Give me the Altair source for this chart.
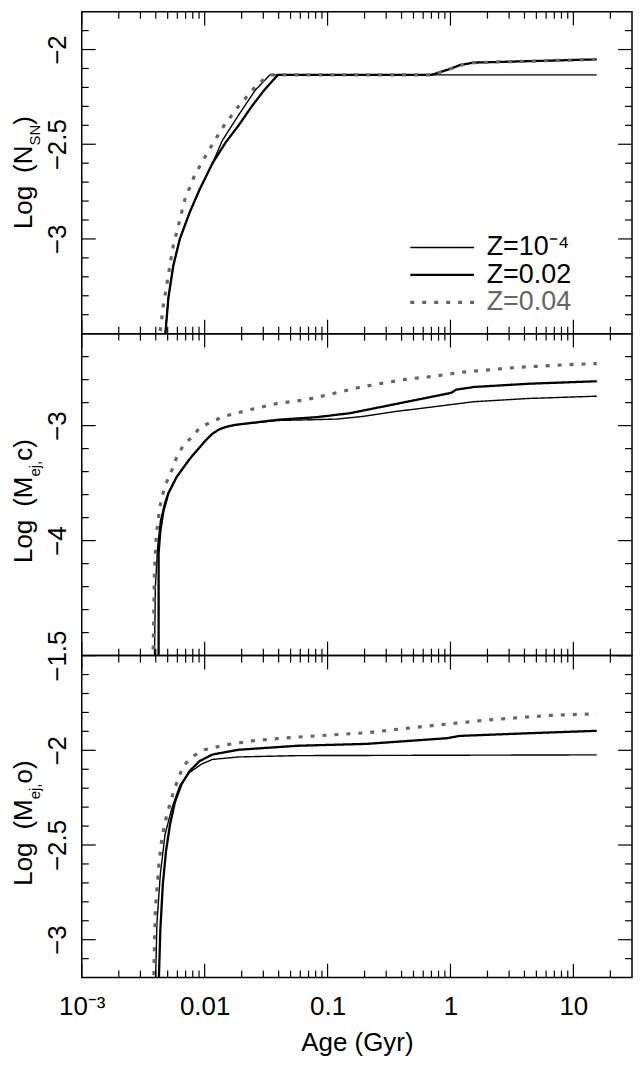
import altair as alt
import pandas as pd

FONT = "Liberation Sans"
W, H = 552, 323

# series styling
SERIES = ["Z=10⁻⁴", "Z=0.02", "Z=0.04"]
SERIES_WIDTH = [1.4, 3.2, 3.0]
SERIES_DASH = [[1, 0], [1, 0], [4, 8]]
SERIES_COLOR = ["#000000", "#000000", "#666666"]

# x axis (age, Gyr, log)
X_DOMAIN = [0.001, 30]
X_TICKS = [0.001, 0.01, 0.1, 1, 10]
X_TICK_LABELS = ["10⁻³", "0.01", "0.1", "1", "10"]
X_MINOR = [k * 10.0 ** d for d in range(-3, 2) for k in range(2, 10) if k * 10.0 ** d < 30]

# ---- panel 1: Log(N_SN) ----
NSN_AGE_THIN = [0.00476, 0.00507, 0.00556, 0.00628, 0.00755, 0.00908, 0.01159, 0.01393,
                0.01892, 0.0257, 0.0339, 15.5]
NSN_THIN = [-3.52, -3.31, -3.14, -3.00, -2.86, -2.74, -2.60, -2.48, -2.345, -2.216, -2.134, -2.134]
NSN_AGE_THICK = [0.00476, 0.00507, 0.00556, 0.00628, 0.00755, 0.00908, 0.01159, 0.01483,
                 0.01892, 0.02415, 0.0309, 0.03945, 0.697, 0.809, 1.016, 1.18, 1.54, 15.5]
NSN_THICK = [-3.52, -3.31, -3.14, -3.00, -2.86, -2.74, -2.60, -2.49, -2.40, -2.30, -2.21,
             -2.134, -2.134, -2.121, -2.10, -2.083, -2.069, -2.052]
NSN_AGE_DOT = [0.00430, 0.00436, 0.00462, 0.00492, 0.00522, 0.00556, 0.00610, 0.00689, 0.00828,
               0.01057, 0.01393, 0.01832, 0.02495, 0.0309, 0.0349, 0.697, 0.809, 1.016, 1.18,
               1.54, 15.5]
NSN_DOT = [-3.55, -3.48, -3.345, -3.241, -3.138, -3.034, -2.931, -2.793, -2.664, -2.543, -2.414,
           -2.310, -2.207, -2.152, -2.134, -2.134, -2.121, -2.10, -2.083, -2.069, -2.052]
NSN_Y_DOMAIN = [-3.5, -1.8]
NSN_Y_TICKS = [-3, -2.5, -2]
NSN_Y_LABELS = ["−3", "−2.5", "−2"]

# ---- panel 2: Log(M_ej, c) ----
C_AGE_THIN = [0.00390, 0.00397, 0.00414, 0.00436, 0.00476, 0.00507, 0.00592, 0.00755, 0.01026,
              0.01159, 0.0130, 0.0150, 0.01782, 0.03945, 0.0728, 0.1189, 0.194, 0.358, 0.746,
              1.556, 4.27, 15.5]
C_THIN = [-5.05, -4.40, -4.06, -3.83, -3.66, -3.58, -3.446, -3.29, -3.125, -3.07, -3.035, -3.01,
          -2.993, -2.955, -2.949, -2.943, -2.92, -2.877, -2.835, -2.792, -2.764, -2.744]
C_AGE_THICK = [0.00422, 0.00422, 0.00436, 0.00462, 0.00507, 0.00592, 0.00755, 0.01026, 0.01159,
               0.0130, 0.0150, 0.01782, 0.03945, 0.0822, 0.1517, 0.2805, 0.516, 1.014, 1.112,
               1.556, 4.27, 15.5]
C_THICK = [-5.05, -4.11, -3.915, -3.744, -3.588, -3.446, -3.29, -3.125, -3.07, -3.035, -3.01,
           -2.993, -2.949, -2.926, -2.892, -2.835, -2.778, -2.715, -2.687, -2.664, -2.636, -2.614]
C_AGE_DOT = [0.00380, 0.00385, 0.00390, 0.00405, 0.00430, 0.00462, 0.00492, 0.00540, 0.00592,
             0.00667, 0.00802, 0.00908, 0.01159, 0.01483, 0.02415, 0.03945, 0.0644, 0.1052,
             0.1718, 0.2805, 0.457, 0.746, 1.219, 3.40, 9.06, 15.5]
C_DOT = [-5.05, -4.68, -4.28, -3.943, -3.716, -3.574, -3.488, -3.389, -3.275, -3.176, -3.09,
         -3.02, -2.962, -2.915, -2.858, -2.806, -2.778, -2.727, -2.673, -2.63, -2.593, -2.57,
         -2.536, -2.494, -2.47, -2.46]
C_Y_DOMAIN = [-5.0, -2.2]
C_Y_TICKS = [-4, -3]
C_Y_LABELS = ["−4", "−3"]

# ---- panel 3: Log(M_ej, o) ----
O_AGE_THIN = [0.00397, 0.00409, 0.00436, 0.00476, 0.00540, 0.00628, 0.00755, 0.00935, 0.01159,
              0.01892, 0.0570, 15.5]
O_THIN = [-3.25, -2.91, -2.652, -2.445, -2.307, -2.186, -2.117, -2.074, -2.048, -2.035, -2.028,
          -2.024]
O_AGE_THICK = [0.00422, 0.00436, 0.00457, 0.00485, 0.00522, 0.00573, 0.00649, 0.00755, 0.00908,
               0.01159, 0.01892, 0.0570, 0.208, 0.942, 1.18, 4.27, 15.5]
O_THICK = [-3.25, -2.945, -2.704, -2.531, -2.393, -2.273, -2.178, -2.109, -2.057, -2.022, -1.997,
           -1.976, -1.966, -1.936, -1.924, -1.91, -1.897]
O_AGE_DOT = [0.00385, 0.00390, 0.00397, 0.00422, 0.00449, 0.00492, 0.00556, 0.00667, 0.00802,
             0.00995, 0.01483, 0.0257, 0.0536, 0.208, 0.646, 2.0, 6.21, 15.5]
O_DOT = [-3.25, -3.049, -2.842, -2.617, -2.462, -2.341, -2.221, -2.083, -2.031, -1.997, -1.971,
         -1.948, -1.931, -1.907, -1.872, -1.84, -1.816, -1.807]
O_Y_DOMAIN = [-3.2, -1.5]
O_Y_TICKS = [-3, -2.5, -2, -1.5]
O_Y_LABELS = ["−3", "−2.5", "−2", "−1.5"]

# legend (drawn inside the top panel, in data coordinates)
LEGEND_X = [0.471, 1.556, 1.97]
LEGEND_Y = [-3.045, -3.19, -3.335]

# rough advance widths (em) for placing the y titles with subscripts
EM = {"L": .556, "o": .556, "g": .556, "\u2002": .5, "(": .333, ")": .333, "N": .722,
      "M": .833, "S": .667, "e": .556, "j": .222, ",": .278, "\u00a0": .278, "c": .5}

xs = alt.Scale(type="log", domain=X_DOMAIN, nice=False)
color_scale = alt.Scale(domain=SERIES, range=SERIES_COLOR)
width_scale = alt.Scale(domain=SERIES, range=SERIES_WIDTH)
dash_scale = alt.Scale(domain=SERIES, range=SERIES_DASH)
ONE = pd.DataFrame({"k": [0]})


def label_expr(values, labels):
    expr = "''"
    for v, lab in zip(reversed(values), reversed(labels)):
        expr = f"abs(datum.value - ({v})) < 1e-9 ? '{lab}' : {expr}"
    return expr


def minor_steps(lo, hi, step, major):
    n = int(round((hi - lo) / step))
    vals = [round(lo + i * step, 3) for i in range(1, n)]
    return [v for v in vals if all(abs(v - m) > 1e-6 for m in major)]


def text_width(text, size):
    return sum(EM.get(ch, 0.55) for ch in text) * size


def panel(curves, y_domain, y_ticks, y_labels, y_step, title_parts, bottom=False, legend=False):
    rows = []
    for name, (ages, vals) in zip(SERIES, curves):
        for i, (a, v) in enumerate(zip(ages, vals)):
            rows.append({"series": name, "age": a, "value": v, "i": i})
    df = pd.DataFrame(rows)
    ys = alt.Scale(domain=y_domain, nice=False, zero=False)

    if bottom:
        x_axis = alt.Axis(values=X_TICKS, labelExpr=label_expr(X_TICKS, X_TICK_LABELS),
                          labelFlush=False, labelPadding=16, labelFont=FONT, labelFontSize=26,
                          labelColor="black", labelOverlap=False, ticks=False, tickSize=0,
                          domain=False, grid=False, title="Age (Gyr)", titleFont=FONT,
                          titleFontSize=26, titleFontWeight="normal", titleColor="black",
                          titlePadding=10)
    else:
        x_axis = None
    y_axis = alt.Axis(values=y_ticks, labelExpr=label_expr(y_ticks, y_labels), labelAngle=270,
                      labelAlign="center", labelBaseline="alphabetic", labelPadding=16,
                      labelFont=FONT, labelFontSize=26, labelColor="black", labelOverlap=False,
                      ticks=False, tickSize=0, domain=False, grid=False, title=None)
    # every layer carries the same axis definitions so they merge cleanly
    X = alt.X("age:Q", scale=xs, axis=x_axis)
    Y = alt.Y("value:Q", scale=ys, axis=y_axis)

    lines = alt.Chart(df).mark_line(clip=True, strokeCap="butt").encode(
        x=X, y=Y,
        color=alt.Color("series:N", scale=color_scale, legend=None),
        strokeWidth=alt.StrokeWidth("series:N", scale=width_scale, legend=None),
        strokeDash=alt.StrokeDash("series:N", scale=dash_scale, legend=None),
        order="i:Q",
    )
    layers = [lines]

    # inward ticks on all four sides
    for vals, length in ((X_TICKS, 14), (X_MINOR, 7)):
        base = alt.Chart(pd.DataFrame({"age": vals})).mark_rule(color="black", strokeWidth=1.2)
        layers.append(base.encode(x=X, y=alt.value(0), y2=alt.value(length)))
        layers.append(base.encode(x=X, y=alt.value(H), y2=alt.value(H - length)))
    y_minor = minor_steps(y_domain[0], y_domain[1], y_step, y_ticks)
    for vals, length in ((y_ticks, 14), (y_minor, 7)):
        base = alt.Chart(pd.DataFrame({"value": vals})).mark_rule(color="black", strokeWidth=1.2)
        layers.append(base.encode(y=Y, x=alt.value(0), x2=alt.value(length)))
        layers.append(base.encode(y=Y, x=alt.value(W), x2=alt.value(W - length)))

    # rotated y title with subscript
    total = sum(text_width(t, s) for t, s, _ in title_parts)
    ypos = H / 2 + total / 2
    for text, size, sub in title_parts:
        layers.append(alt.Chart(ONE).mark_text(
            text=text, angle=270, align="left", baseline="alphabetic", font=FONT,
            fontSize=size, color="black",
        ).encode(x=alt.value(-42 if sub else -50), y=alt.value(ypos)))
        ypos -= text_width(text, size)

    if legend:
        leg = pd.DataFrame({"series": SERIES, "value": LEGEND_Y,
                            "age": [LEGEND_X[0]] * 3, "x1": [LEGEND_X[1]] * 3})
        layers.append(alt.Chart(leg).mark_rule(strokeCap="butt").encode(
            x=X, x2="x1:Q", y=Y,
            color=alt.Color("series:N", scale=color_scale, legend=None),
            strokeWidth=alt.StrokeWidth("series:N", scale=width_scale, legend=None),
            strokeDash=alt.StrokeDash("series:N", scale=dash_scale, legend=None),
        ))
        leg_text = pd.DataFrame({"series": SERIES, "value": LEGEND_Y,
                                 "age": [LEGEND_X[2]] * 3})
        layers.append(alt.Chart(leg_text).mark_text(
            align="left", baseline="middle", font=FONT, fontSize=27,
        ).encode(
            x=X, y=Y, text="series:N",
            color=alt.Color("series:N", scale=color_scale, legend=None),
        ))

    return alt.layer(*layers).properties(width=W, height=H)


top = panel(
    [(NSN_AGE_THIN, NSN_THIN), (NSN_AGE_THICK, NSN_THICK), (NSN_AGE_DOT, NSN_DOT)],
    NSN_Y_DOMAIN, NSN_Y_TICKS, NSN_Y_LABELS, 0.1,
    [("Log\u2002(N", 26, False), ("SN", 15, True), (")", 26, False)],
    legend=True,
)
mid = panel(
    [(C_AGE_THIN, C_THIN), (C_AGE_THICK, C_THICK), (C_AGE_DOT, C_DOT)],
    C_Y_DOMAIN, C_Y_TICKS, C_Y_LABELS, 0.2,
    [("Log\u2002(M", 26, False), ("ej,", 15, True), ("\u2002c)", 26, False)],
)
bot = panel(
    [(O_AGE_THIN, O_THIN), (O_AGE_THICK, O_THICK), (O_AGE_DOT, O_DOT)],
    O_Y_DOMAIN, O_Y_TICKS, O_Y_LABELS, 0.1,
    [("Log\u2002(M", 26, False), ("ej,", 15, True), ("\u2002o)", 26, False)],
    bottom=True,
)

chart = alt.vconcat(top, mid, bot, spacing=0, bounds="flush").properties(
    background="white",
    padding={"left": 2, "right": 2, "top": 0, "bottom": 2},
).configure_view(stroke="black", strokeWidth=1.5)

chart.save("out.html", embed_options={"renderer": "svg", "actions": False})
